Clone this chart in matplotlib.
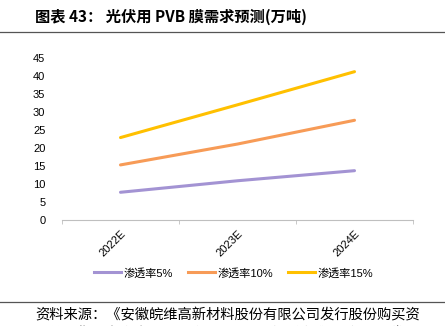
import matplotlib
matplotlib.use("Agg")
import matplotlib.pyplot as plt
from matplotlib.lines import Line2D

plt.rcParams['font.family'] = ['Liberation Sans', 'Noto Sans CJK SC', 'DejaVu Sans']

years = ["2022E", "2023E", "2024E"]
labels = ["渗透率5%", "渗透率10%", "渗透率15%"]
pen5 = [7.7, 10.9, 13.7]
pen10 = [15.3, 21.1, 27.7]
pen15 = [22.9, 32.0, 41.2]
colors = ["#A393D3", "#F79B57", "#FFC000"]

fig = plt.figure(figsize=(4.45, 3.26), dpi=100)
ax = fig.add_axes([62 / 445, 1 - 220 / 326, (413 - 62) / 445, (220 - 58) / 326])

x = range(len(years))
for vals, lab, c in zip([pen5, pen10, pen15], labels, colors):
    ax.plot(x, vals, color=c, lw=2.2, label=lab, solid_capstyle="round")

ax.set_xlim(-0.5, 2.5)
ax.set_ylim(0, 45)
ax.set_yticks(range(0, 46, 5))
ax.set_xticks(list(x))
ax.set_xticklabels(years, rotation=45, ha="right", rotation_mode="anchor", fontsize=8)
ax.set_xticks([-0.5, 0.5, 1.5, 2.5], minor=True)
ax.tick_params(axis="x", which="major", length=0, pad=6)
ax.tick_params(axis="x", which="minor", length=3, color="#BFBFBF", direction="out")
ax.tick_params(axis="y", length=0, labelsize=8, pad=12)
for s in ["top", "right", "left"]:
    ax.spines[s].set_visible(False)
ax.spines["bottom"].set_color("#BFBFBF")

handles = [Line2D([0], [0], color=c, lw=2.2) for c in colors]
fig.legend(handles, labels, loc="center", bbox_to_anchor=(0.525, 1 - 273 / 326),
           ncol=3, frameon=False, fontsize=8, handlelength=2.4,
           handletextpad=0.2, columnspacing=1.4)

cjk = ['Noto Sans CJK SC', 'DejaVu Sans']
# header and footer
fig.text(35 / 445, 1 - 17 / 326, "图表 43： 光伏用 PVB 膜需求预测(万吨)", fontsize=11,
         fontweight="bold", va="center", ha="left", family=cjk)
fig.add_artist(Line2D([0, 1], [1 - 32 / 326] * 2, color="#555555", lw=0.9))
fig.add_artist(Line2D([0, 1], [1 - 302 / 326] * 2, color="#555555", lw=0.9))
fig.text(35 / 445, 1 - 314 / 326, "资料来源：《安徽皖维高新材料股份有限公司发行股份购买资",
         fontsize=10.3, va="center", ha="left", family=cjk)
fig.text(35 / 445, 1 - 334 / 326, "产并募集配套资金暨关联交易报告书（草案）》，华安证券研究所",
         fontsize=10.3, va="center", ha="left", family=cjk)

fig.savefig("out.png", dpi=100)
